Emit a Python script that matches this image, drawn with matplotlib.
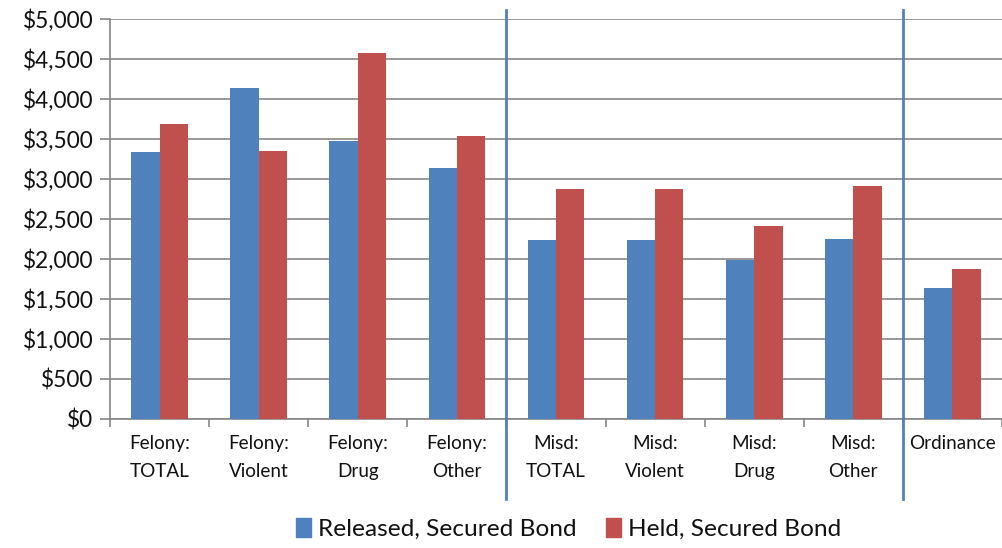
import numpy as np
import matplotlib.pyplot as plt
from matplotlib.patches import Patch
from matplotlib.ticker import FuncFormatter, MultipleLocator

DPI = 100
WIDTH = 1002
HEIGHT = 548

categories = ["Felony:\nTOTAL", "Felony:\nViolent", "Felony:\nDrug", "Felony:\nOther",
              "Misd:\nTOTAL", "Misd:\nViolent", "Misd:\nDrug", "Misd:\nOther",
              "Ordinance"]
released = [3330, 4140, 3480, 3140, 2230, 2235, 1990, 2245, 1630]
held = [3690, 3350, 4570, 3540, 2870, 2870, 2410, 2910, 1875]
series_names = ["Released, Secured Bond", "Held, Secured Bond"]
group_breaks = [3.5, 7.5]

BLUE = "#4F81BD"
RED = "#C0504D"
GRID = "#868686"

plt.rcParams["font.family"] = ["Lato", "DejaVu Sans"]

fig = plt.figure(figsize=(WIDTH / DPI, HEIGHT / DPI), dpi=DPI)
ax = fig.add_axes([110 / WIDTH, 1 - 418.7 / HEIGHT, 1 - 110 / WIDTH, 399.7 / HEIGHT])

x = np.arange(len(categories))
w = 1 / 3.5  # excel gap width 150%
ax.bar(x - w / 2, released, w, color=BLUE, zorder=3)
ax.bar(x + w / 2, held, w, color=RED, zorder=3)

ax.set_xlim(-0.5, len(categories) - 0.5)
ax.set_ylim(0, 5000)
ax.yaxis.set_major_locator(MultipleLocator(500))
ax.yaxis.set_major_formatter(FuncFormatter(lambda v, _: f"${v:,.0f}"))
ax.grid(axis="y", color=GRID, linewidth=1.2, zorder=0)

for s in ["top", "right"]:
    ax.spines[s].set_visible(False)
for s in ["left", "bottom"]:
    ax.spines[s].set_color(GRID)
    ax.spines[s].set_linewidth(1.2)

ax.tick_params(axis="y", length=7, color=GRID, width=1.2, labelsize=16.3, pad=5,
               labelcolor="#111111")
ax.set_xticks(np.arange(-0.5, len(categories), 1.0))
ax.set_xticklabels([])
ax.set_xticks(x, minor=True)
ax.set_xticklabels(categories, minor=True, fontsize=13.6, linespacing=1.75,
                   color="#111111")
ax.tick_params(axis="x", which="major", length=6, color=GRID, width=1.2)
ax.tick_params(axis="x", which="minor", length=0, pad=12)

# group separators
for b in group_breaks:
    ax.plot([b, b], [1.0225, -0.201], color=BLUE, linewidth=2,
            transform=ax.get_xaxis_transform(), clip_on=False, zorder=4)

handles = [Patch(color=BLUE), Patch(color=RED)]
fig.legend(handles, series_names, loc="center", bbox_to_anchor=(569 / WIDTH, 1 - 529 / HEIGHT),
           ncol=2, frameon=False, fontsize=17.6, handlelength=0.6, handleheight=0.8,
           handletextpad=0.3, columnspacing=1.2, labelcolor="#111111")

fig.savefig("out.png", dpi=DPI)
plt.close()
